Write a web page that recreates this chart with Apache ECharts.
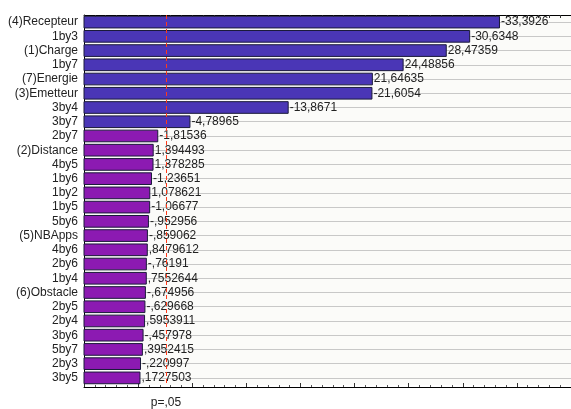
<!DOCTYPE html>
<html>
<head>
<meta charset="utf-8">
<script src="https://cdn.jsdelivr.net/npm/echarts@6/dist/echarts.min.js"></script>
<style>
html,body{margin:0;padding:0;background:#fff;}
#chart{width:571px;height:409px;}
</style>
</head>
<body>
<div id="chart"></div>
<script>
const categories = ['(4)Recepteur','1by3','(1)Charge','1by7','(7)Energie','(3)Emetteur','3by4','3by7','2by7','(2)Distance','4by5','1by6','1by2','1by5','5by6','(5)NBApps','4by6','2by6','1by4','(6)Obstacle','2by5','2by4','3by6','5by7','2by3','3by5'];
const effects = [-33.3926,-30.6348,28.47359,24.48856,21.64635,-21.6054,-13.8671,-4.78965,-1.81536,1.394493,1.378285,-1.23651,1.078621,-1.06677,-0.952956,-0.859062,0.8479612,-0.76191,0.7552644,-0.674956,-0.629668,0.5953911,-0.457978,0.3952415,-0.220997,0.1727503];
const pCritical = 2.571;
const pLabel = 'p=,05';
const xMin = -5, xMax = 40, xInterval = 5;

const FONT = '"Liberation Sans", Arial, sans-serif';
function fmt(v){
  return String(v).replace('.', ',').replace(/^(-?)0,/, '$1,');
}
const seriesData = categories.map((c, i) => [Math.abs(effects[i]), i, effects[i]]);

const chart = echarts.init(document.getElementById('chart'));
chart.setOption({
  animation: false,
  backgroundColor: '#ffffff',
  grid: {left: 84, top: 15, width: 489.5, height: 370, show: true, backgroundColor: '#fbfbf9', borderWidth: 0},
  xAxis: [
    {type: 'value', position: 'bottom', min: xMin, max: xMax, interval: xInterval, offset: 2,
     axisLine: {show: true, onZero: false, lineStyle: {color: '#000', width: 1}},
     axisTick: {show: true, inside: true, length: 4, lineStyle: {color: '#333'}},
     minorTick: {show: true, splitNumber: 5, length: 2, lineStyle: {color: '#555'}},
     axisLabel: {show: false}, splitLine: {show: false}},
    {type: 'value', position: 'top', min: xMin, max: xMax, interval: xInterval,
     axisLine: {show: true, onZero: false, lineStyle: {color: '#000', width: 1}},
     axisTick: {show: true, inside: true, length: 3, lineStyle: {color: '#333'}},
     minorTick: {show: true, splitNumber: 5, length: 3, lineStyle: {color: '#333'}},
     axisLabel: {show: false}, splitLine: {show: false}}
  ],
  yAxis: {
    type: 'category', inverse: true, data: categories,
    axisLine: {show: true, onZero: false, lineStyle: {color: '#000', width: 1}},
    axisTick: {show: true, inside: true, length: 3, alignWithLabel: true, interval: 0, lineStyle: {color: '#222'}},
    axisLabel: {margin: 6, interval: 0, color: '#222', fontSize: 12, fontFamily: FONT},
    splitLine: {show: true, alignWithLabel: true, interval: 0, lineStyle: {color: '#c8c8c8', width: 1}}
  },
  series: [{
    type: 'custom',
    xAxisIndex: 0,
    data: seriesData,
    encode: {x: 0, y: 1},
    renderItem: function(params, api){
      const yi = api.value(1);
      const start = api.coord([xMin, yi]);
      const end = api.coord([api.value(0), yi]);
      const h = api.size([0, 1])[1] * 0.82;
      const sig = api.value(0) > pCritical;
      return {type: 'group', children: [
        {type: 'rect', shape: {x: start[0], y: start[1] - h/2, width: end[0] - start[0], height: h},
         style: {fill: sig ? '#4a36b6' : '#8c1ab2', stroke: '#1a1a3a', lineWidth: 1}},
        {type: 'text', style: {text: fmt(api.value(2)), x: end[0] + 1.5, y: end[1],
          verticalAlign: 'middle', align: 'left', font: '12px ' + FONT, fill: '#222'}}
      ]};
    },
    markLine: {
      silent: true, symbol: 'none',
      lineStyle: {color: '#ff3a1a', type: [4, 3], width: 1},
      label: {show: true, formatter: pLabel, position: 'end', distance: 12, color: '#222', fontSize: 12, fontFamily: FONT},
      data: [{xAxis: pCritical}]
    }
  }]
});
</script>
</body>
</html>
